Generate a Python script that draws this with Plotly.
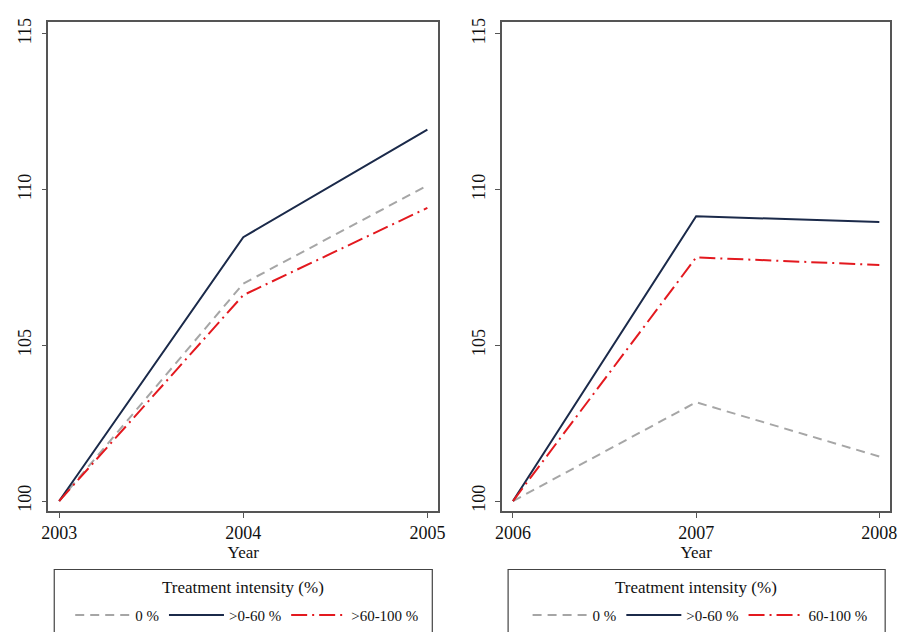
import plotly.graph_objects as go

years_a = [2003, 2004, 2005]
years_b = [2006, 2007, 2008]

a_zero = [100, 106.98, 110.13]
a_low = [100, 108.47, 111.92]
a_high = [100, 106.61, 109.41]

b_zero = [100, 103.17, 101.43]
b_low = [100, 109.14, 108.96]
b_high = [100, 107.82, 107.58]

names_a = ["0 %", ">0-60 %", ">60-100 %"]
names_b = ["0 %", ">0-60 %", "60-100 %"]

y_ticks = [100, 105, 110, 115]

GRAY = "#a6a6a6"
NAVY = "#1b2a4a"
RED = "#e3191f"
styles = [
    dict(color=GRAY, width=2, dash="9px,6px"),
    dict(color=NAVY, width=2, dash="solid"),
    dict(color=RED, width=2, dash="16px,5px,2px,5px"),
]

W, H = 903, 632
def px(x): return x / W
def py(y): return (H - y) / H

fig = go.Figure()
for ys, nm, st in zip([a_zero, a_low, a_high], names_a, styles):
    fig.add_trace(go.Scatter(x=years_a, y=ys, mode="lines", name=nm, line=st,
                             xaxis="x", yaxis="y", legend="legend"))
for ys, nm, st in zip([b_zero, b_low, b_high], names_b, styles):
    fig.add_trace(go.Scatter(x=years_b, y=ys, mode="lines", name=nm, line=st,
                             xaxis="x2", yaxis="y2", legend="legend2"))

FONT = "Liberation Serif, Times New Roman, serif"
axis_common = dict(showline=True, mirror=True, linecolor="#555555", linewidth=1.5,
                   ticks="outside", ticklen=5, tickcolor="#555555", tickwidth=1,
                   showgrid=False, zeroline=False,
                   tickfont=dict(family=FONT, size=18, color="#111111"))

yd = [py(511), py(18)]
xr_a = [2003 - 11 / 187, 2005 + 11 / 187]
xr_b = [2006 - 11 / 187, 2008 + 11 / 187]
yr = [100 - 10 / 31.4, 115 + 12 / 31.4]

legend_common = dict(orientation="h", xanchor="center", y=py(616), yanchor="middle",
                     font=dict(family=FONT, size=15, color="#111111"), itemwidth=55,
                     bgcolor="rgba(0,0,0,0)", tracegroupgap=0, itemclick=False)

fig.update_layout(
    width=W, height=H,
    margin=dict(l=0, r=0, t=0, b=0),
    paper_bgcolor="white", plot_bgcolor="white",
    font=dict(family=FONT, color="#111111"),
    xaxis=dict(domain=[px(42), px(438)], range=xr_a, tickvals=years_a, anchor="y",
               title=dict(text="Year", font=dict(family=FONT, size=17), standoff=0), **axis_common),
    yaxis=dict(domain=yd, range=yr, tickvals=y_ticks, tickangle=-90, anchor="x",
               ticklabelstandoff=3, **axis_common),
    xaxis2=dict(domain=[px(503), px(897)], range=xr_b, tickvals=years_b, anchor="y2",
                title=dict(text="Year", font=dict(family=FONT, size=17), standoff=0), **axis_common),
    yaxis2=dict(domain=yd, range=yr, tickvals=y_ticks, tickangle=-90, anchor="x2",
                ticklabelstandoff=3, **axis_common),
    legend=dict(x=px(244), **legend_common),
    legend2=dict(x=px(704), **legend_common),
    shapes=[
        dict(type="rect", xref="paper", yref="paper", x0=px(48), x1=px(432), y0=-0.1, y1=py(570),
             line=dict(color="#444444", width=1.2)),
        dict(type="rect", xref="paper", yref="paper", x0=px(509), x1=px(892), y0=-0.1, y1=py(570),
             line=dict(color="#444444", width=1.2)),
    ],
    annotations=[
        dict(text="Treatment intensity (%)", xref="paper", yref="paper", x=px(240), y=py(588),
             xanchor="center", yanchor="middle",
             showarrow=False, font=dict(family=FONT, size=17, color="#111111")),
        dict(text="Treatment intensity (%)", xref="paper", yref="paper", x=px(700), y=py(588),
             xanchor="center", yanchor="middle",
             showarrow=False, font=dict(family=FONT, size=17, color="#111111")),
    ],
)

fig.write_html("out.html")
